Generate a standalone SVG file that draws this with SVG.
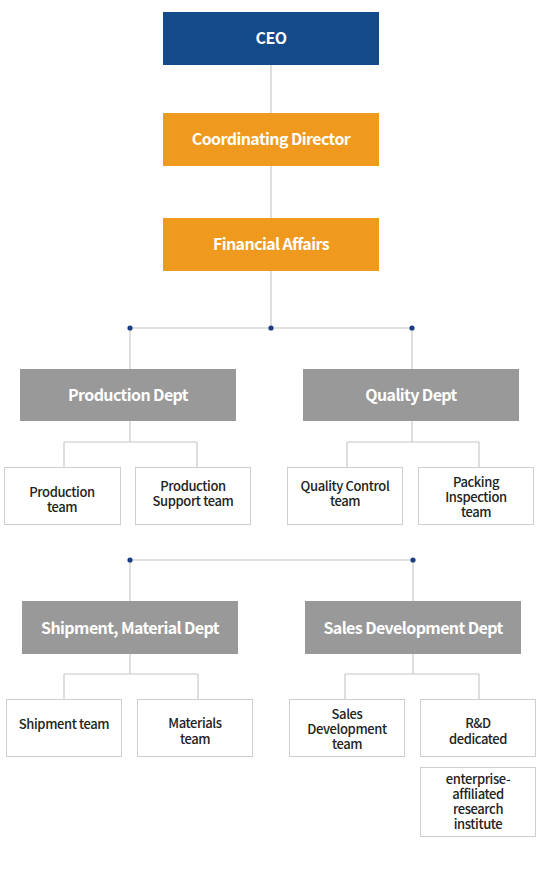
<svg xmlns="http://www.w3.org/2000/svg" width="540" height="872" viewBox="0 0 540 872">
<style>
.t{font-family:"Noto Sans CJK KR","Noto Sans",sans-serif;font-weight:700;font-size:16px;fill:#fff;text-anchor:middle;letter-spacing:-0.6px}
.s{font-family:"Noto Sans CJK KR","Noto Sans",sans-serif;font-weight:500;font-size:13px;fill:#222;text-anchor:middle;letter-spacing:-0.4px}
.ln{stroke:#c8c8c8;stroke-width:1.2;fill:none}
.dot{fill:#1a3f80}
.box{fill:#fff;stroke:#cfcfcf;stroke-width:1}
.gray{fill:#999999}
.org{fill:#ef9a1f}
</style>
<rect width="540" height="872" fill="#fff"/>
<g id="connectors">
<path class="ln" d="M271 65V113M271 166V218M271 271V328M130 328H412M130 328V369M412 328V369"/>
<path class="ln" d="M130 421V442M64 442H197M64 442V467M197 442V467"/>
<path class="ln" d="M412 421V442M347 442H479M347 442V467M479 442V467"/>
<path class="ln" d="M130 560H413M130 560V601M413 560V601"/>
<path class="ln" d="M130 654V674M64 674H198M64 674V699M198 674V699"/>
<path class="ln" d="M413 654V674M345 674H479M345 674V699M479 674V699"/>
<circle class="dot" cx="130" cy="328" r="2.6"/>
<circle class="dot" cx="271" cy="328" r="2.6"/>
<circle class="dot" cx="412" cy="328" r="2.6"/>
<circle class="dot" cx="130" cy="560" r="2.6"/>
<circle class="dot" cx="413" cy="560" r="2.6"/>
</g>
<g id="ceo"><rect x="163" y="12" width="216" height="53" fill="#134a8a"/><text class="t" x="271" y="44">CEO</text></g>
<g id="coord"><rect class="org" x="163" y="113" width="216" height="53"/><text class="t" x="271" y="145">Coordinating Director</text></g>
<g id="fin"><rect class="org" x="163" y="218" width="216" height="53"/><text class="t" x="271" y="250">Financial Affairs</text></g>
<g id="prod"><rect class="gray" x="20" y="369" width="216" height="52"/><text class="t" x="128" y="401">Production Dept</text></g>
<g id="qual"><rect class="gray" x="303" y="369" width="216" height="52"/><text class="t" x="411" y="401">Quality Dept</text></g>
<g id="prodteam"><rect class="box" x="4.5" y="467.5" width="116" height="57"/><text class="s" x="62" y="497">Production</text><text class="s" x="62" y="512">team</text></g>
<g id="prodsup"><rect class="box" x="135.5" y="467.5" width="115" height="57"/><text class="s" x="193" y="491">Production</text><text class="s" x="193" y="506">Support team</text></g>
<g id="qc"><rect class="box" x="287.5" y="467.5" width="115" height="57"/><text class="s" x="345" y="491">Quality Control</text><text class="s" x="345" y="506">team</text></g>
<g id="pack"><rect class="box" x="418.5" y="467.5" width="115" height="57"/><text class="s" x="476" y="487">Packing</text><text class="s" x="476" y="502">Inspection</text><text class="s" x="476" y="517">team</text></g>
<g id="ship"><rect class="gray" x="22" y="601" width="216" height="53"/><text class="t" x="130" y="634">Shipment, Material Dept</text></g>
<g id="sales"><rect class="gray" x="305" y="601" width="216" height="53"/><text class="t" x="413" y="634">Sales Development Dept</text></g>
<g id="shipteam"><rect class="box" x="6.5" y="699.5" width="115" height="57"/><text class="s" x="64" y="729">Shipment team</text></g>
<g id="mat"><rect class="box" x="137.5" y="699.5" width="115" height="57"/><text class="s" x="195" y="728">Materials</text><text class="s" x="195" y="744">team</text></g>
<g id="salesteam"><rect class="box" x="289.5" y="699.5" width="115" height="57"/><text class="s" x="347" y="719">Sales</text><text class="s" x="347" y="734">Development</text><text class="s" x="347" y="749">team</text></g>
<g id="rd"><rect class="box" x="420.5" y="699.5" width="115" height="57"/><text class="s" x="478" y="728">R&amp;D</text><text class="s" x="478" y="744">dedicated</text></g>
<g id="inst"><rect class="box" x="420.5" y="767.5" width="115" height="69"/><text class="s" x="478" y="784">enterprise-</text><text class="s" x="478" y="799">affiliated</text><text class="s" x="478" y="814">research</text><text class="s" x="478" y="829">institute</text></g>
</svg>
